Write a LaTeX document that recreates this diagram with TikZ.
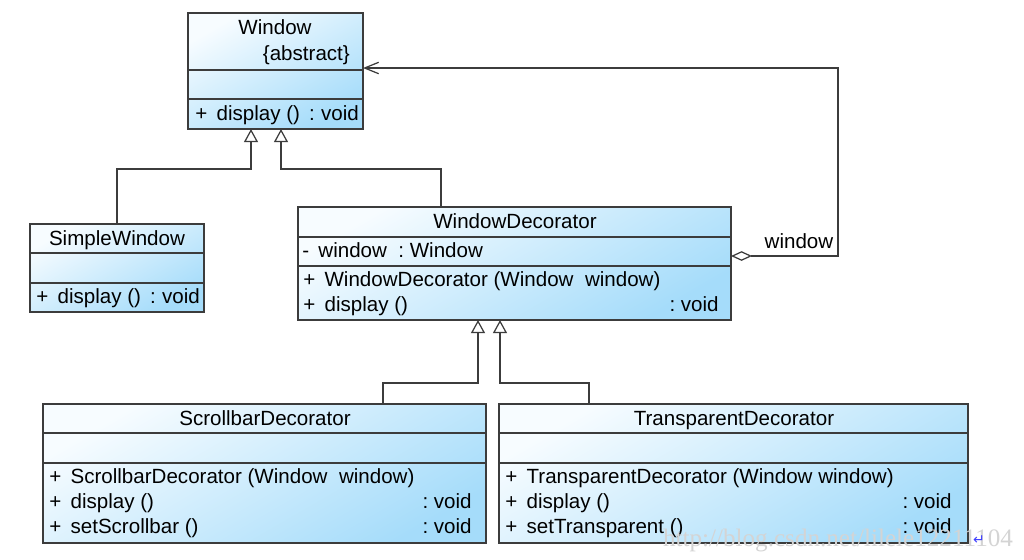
\documentclass[tikz,border=0pt]{standalone}
\usepackage{fontspec}
\setmainfont{Liberation Sans}
\newfontfamily\wmfont{Liberation Serif}
\newfontfamily\symfont{DejaVu Sans}
\usetikzlibrary{arrows.meta,fit}
\definecolor{umlfill}{RGB}{165,220,250}
\definecolor{umltop}{RGB}{247,252,255}
\definecolor{umlline}{RGB}{60,60,60}
\newcommand{\umlgap}{\hspace{0.45em}}
\tikzset{
  classbox/.style={draw=umlline, line width=0.7pt, inner sep=0pt, top color=umltop, bottom color=umlfill, shading angle=30},
  compline/.style={draw=umlline, line width=0.7pt},
  row/.style={anchor=west, inner sep=0pt},
  inherit/.style={-{Triangle[open, length=7.5pt, width=8pt]}, draw=umlline, line width=0.7pt},
  aggr/.style={{Diamond[open, length=12pt, width=5.5pt]}-{Straight Barb[length=8pt, width=6.5pt]}, draw=umlline, line width=0.7pt}
}

\begin{document}
\begin{tikzpicture}[x=0.02cm, y=-0.02cm, font=\fontsize{11.7}{14}\selectfont,
    every node/.style={text height=10.6pt, text depth=2.2pt}]
    \useasboundingbox[fill=white] (0,0) rectangle (1024,559);
    % Window
    \node (win) [classbox, fit={(188,13) (363,129)}] {};
    \draw[compline] (188,70) -- (363,70);
    \draw[compline] (188,99) -- (363,99);
    \node (winname) at (275,27) {Window};
    \node (winabs) [anchor=east] at (356,53) {\{abstract\}};
    \node (windisp) [row] at (195,113) {+\umlgap display ()\umlgap :\hspace{0.3em}void};
    % SimpleWindow
    \node (simple) [classbox, fit={(30,224) (204,312)}] {};
    \draw[compline] (30,253) -- (204,253);
    \draw[compline] (30,283) -- (204,283);
    \node (simplename) at (117,238) {SimpleWindow};
    \node (simpledisp) [row] at (36,296) {+\umlgap display ()\umlgap :\hspace{0.3em}void};
    % WindowDecorator
    \node (dec) [classbox, fit={(298,207) (731,320)}] {};
    \draw[compline] (298,237) -- (731,237);
    \draw[compline] (298,266) -- (731,266);
    \node (decname) at (515,221) {WindowDecorator};
    \node (decattr) [row] at (302,250) {-\umlgap window~~:~Window};
    \node (decctor) [row] at (303,279) {+\umlgap WindowDecorator (Window~~window)};
    \node (decdisp) [row] at (303,304) {+\umlgap display ()};
    \node (decvoid) [anchor=east, inner sep=0pt] at (719,304) {:~void};
    % ScrollbarDecorator
    \node (scr) [classbox, fit={(43,404) (486,543)}] {};
    \draw[compline] (43,433) -- (486,433);
    \draw[compline] (43,463) -- (486,463);
    \node (scrname) at (265,418) {ScrollbarDecorator};
    \node (scrctor) [row] at (49,476) {+\umlgap ScrollbarDecorator (Window~~window)};
    \node (scrdisp) [row] at (49,501) {+\umlgap display ()};
    \node (scrset) [row] at (49,526) {+\umlgap setScrollbar ()};
    \node (scrvoida) [anchor=east, inner sep=0pt] at (472,501) {:~void};
    \node (scrvoidb) [anchor=east, inner sep=0pt] at (472,526) {:~void};
    % TransparentDecorator
    \node (tr) [classbox, fit={(499,404) (968,543)}] {};
    \draw[compline] (499,433) -- (968,433);
    \draw[compline] (499,463) -- (968,463);
    \node (trname) at (734,418) {TransparentDecorator};
    \node (trctor) [row] at (505,476) {+\umlgap TransparentDecorator (Window window)};
    \node (trdisp) [row] at (505,501) {+\umlgap display ()};
    \node (trset) [row] at (505,526) {+\umlgap setTransparent ()};
    \node (trvoida) [anchor=east, inner sep=0pt] at (952,501) {:~void};
    \node (trvoidb) [anchor=east, inner sep=0pt] at (952,526) {:~void};
    % connectors
    \coordinate (winL) at (251,129);
    \coordinate (winR) at (281,129);
    \coordinate (decTop) at (441,207);
    \coordinate (decL) at (478,320);
    \coordinate (decR) at (500,320);
    \coordinate (scrTop) at (383,404);
    \coordinate (trTop) at (589,404);
    \coordinate (decAgg) at (731,256);
    \coordinate (winAgg) at (363,68);
    \draw[inherit] (simple.north) |- (winL |- 0,169) -- (winL);
    \draw[inherit] (decTop) |- (winR |- 0,169) -- (winR);
    \draw[inherit] (scrTop) |- (decL |- 0,383) -- (decL);
    \draw[inherit] (trTop) |- (decR |- 0,383) -- (decR);
    \draw[aggr] (decAgg) -- (838,256) |- (winAgg);
    \node (aggrlabel) at (799,241) {window};
    % watermark
    \node (wm) [font=\wmfont\fontsize{14.3}{14.3}\selectfont, text=black!17, text height=, text depth=] at (838,540) {http://blog.csdn.net/lilele12211104};
    \node (wmret) [font=\symfont\fontsize{8}{8}\selectfont, text=blue!75, inner sep=0pt, text height=, text depth=] at (979,540) {↵};
  \end{tikzpicture}
\end{document}
